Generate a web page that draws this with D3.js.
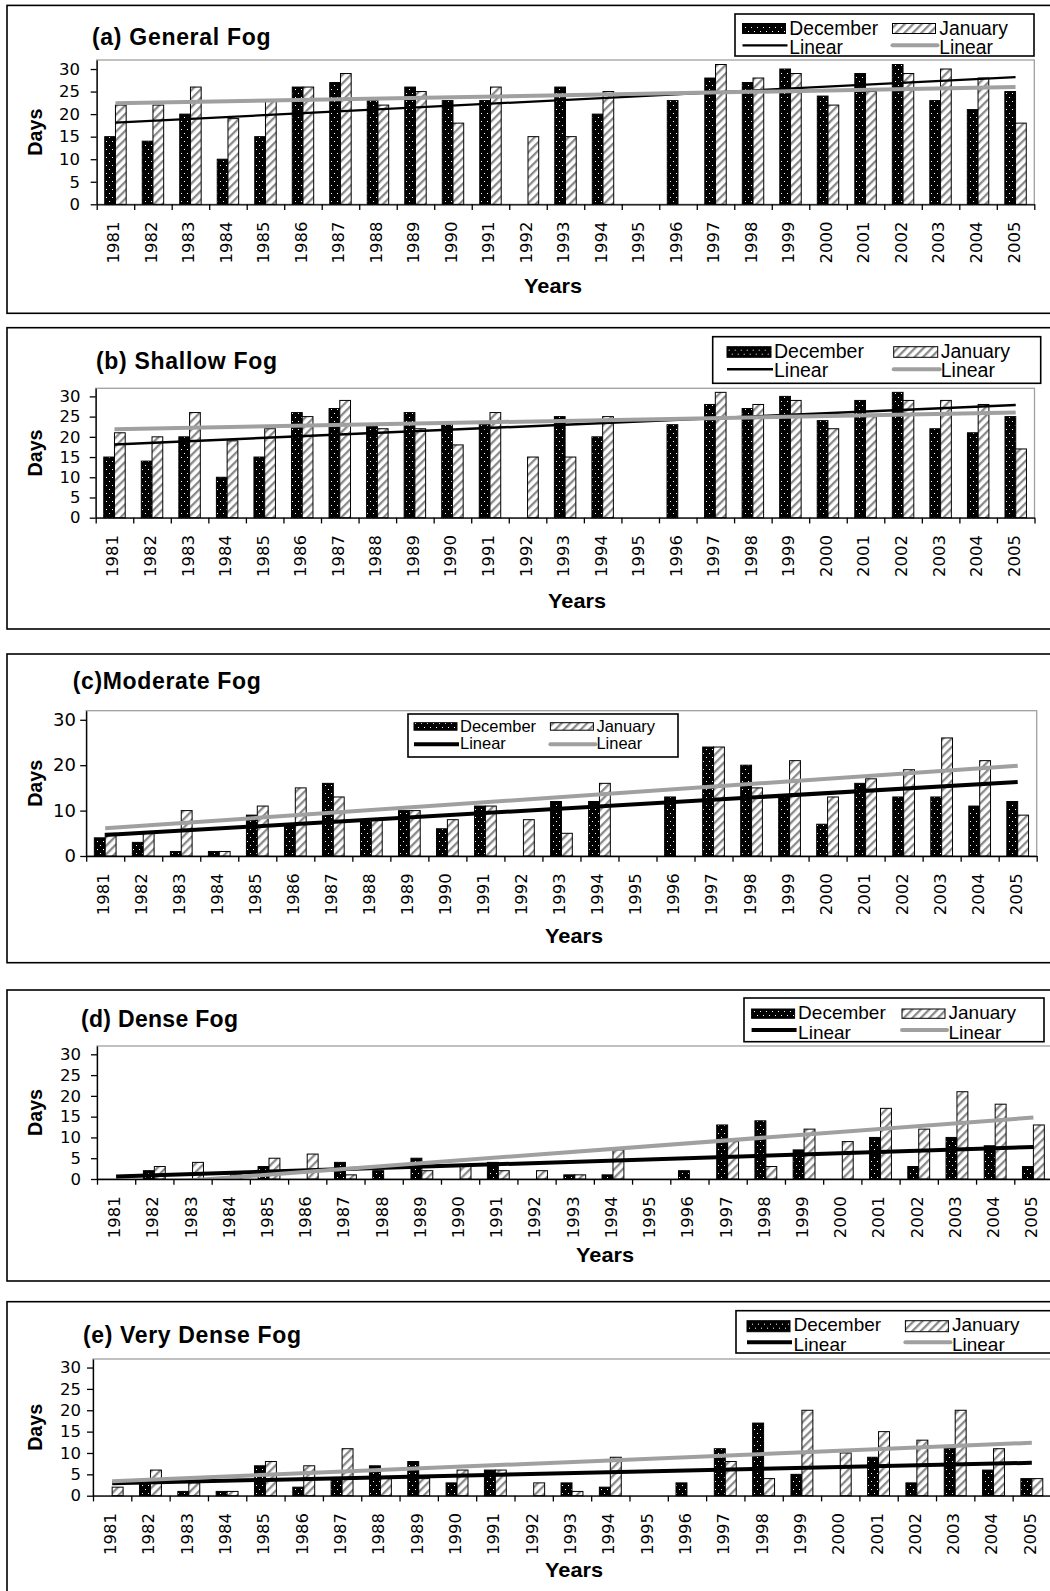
<!DOCTYPE html>
<html><head><meta charset="utf-8">
<script src="https://cdn.jsdelivr.net/npm/d3@7"></script>
<style>body{margin:0;background:#fff} svg{display:block}</style>
</head><body>
<svg id="chart" width="1050" height="1591"></svg>
<script>
// ---------------- DATA ----------------
const years = ["1981","1982","1983","1984","1985","1986","1987","1988","1989","1990","1991","1992","1993","1994","1995","1996","1997","1998","1999","2000","2001","2002","2003","2004","2005"];
const seriesNames = ["December","January"];
const legendLabels = ["December","January","Linear","Linear"];
const titles = ["(a) General Fog","(b) Shallow Fog","(c)Moderate Fog","(d) Dense Fog","(e) Very Dense Fog"];
const yAxisTitle = "Days";
const xAxisTitle = "Years";
const yTicksFine = [0,5,10,15,20,25,30];
const yTicksCoarse = [0,10,20,30];
const trendYears = ["1981","2005"];

const decGeneral = [15,14,20,10,15,26,27,23,26,23,23,null,26,20,null,23,28,27,30,24,29,31,23,21,25];
const janGeneral = [22,22,26,19,23,26,29,22,25,18,26,15,15,25,null,null,31,28,29,22,25,29,30,28,18];
const trendDecGeneral = [18.1,28.2];
const trendJanGeneral = [22.4,26.0];

const decShallow = [15,14,20,10,15,26,27,23,26,23,23,null,25,20,null,23,28,27,30,24,29,31,22,21,25];
const janShallow = [21,20,26,19,22,25,29,22,22,18,26,15,15,25,null,null,31,28,29,22,25,29,29,28,17];
const trendDecShallow = [18.1,27.9];
const trendJanShallow = [21.9,26.0];

const decModerate = [4,3,1,1,9,7,16,8,10,6,11,null,12,12,null,13,24,20,13,7,16,13,13,11,12];
const janModerate = [5,5,10,1,11,15,13,8,10,8,11,8,5,16,null,null,24,15,21,13,17,19,26,21,9];
const trendDecModerate = [4.6,16.3];
const trendJanModerate = [6.1,19.9];

const decDense = [null,2,null,null,3,null,4,2,5,null,4,null,1,1,null,2,13,14,7,null,10,3,10,8,3];
const janDense = [null,3,4,1,5,6,1,null,2,3,2,2,1,7,null,null,9,3,12,9,17,12,21,18,13];
const trendDecDense = [0.6,7.7];
const trendJanDense = [-1.7,14.8];

const decVeryDense = [null,3,1,1,7,2,4,7,8,3,6,null,3,2,null,3,11,17,5,null,9,3,11,6,4];
const janVeryDense = [2,6,3,1,8,7,11,4,4,6,6,3,1,9,null,null,8,4,20,10,15,13,20,11,4];
const trendDecVeryDense = [2.9,7.7];
const trendJanVeryDense = [3.4,12.4];

const panels = [
  {title:titles[0], dec:decGeneral, jan:janGeneral, tDec:trendDecGeneral, tJan:trendJanGeneral, yTicks:yTicksFine},
  {title:titles[1], dec:decShallow, jan:janShallow, tDec:trendDecShallow, tJan:trendJanShallow, yTicks:yTicksFine},
  {title:titles[2], dec:decModerate, jan:janModerate, tDec:trendDecModerate, tJan:trendJanModerate, yTicks:yTicksCoarse},
  {title:titles[3], dec:decDense, jan:janDense, tDec:trendDecDense, tJan:trendJanDense, yTicks:yTicksFine},
  {title:titles[4], dec:decVeryDense, jan:janVeryDense, tDec:trendDecVeryDense, tJan:trendJanVeryDense, yTicks:yTicksFine}
];

// ---------------- LAYOUT ----------------
const layouts = [
  {box:[7,5.4,1062,313.3], x0:96.7, x1:1034.3, yTop:60, y0:204.3, titleX:92, titleY:45, titleW:178.5, ylabRight:80, ylabSize:16.5,
   daysX:34.5, yearsX:553, yearsY:293, decW:2.2, janW:4,
   leg:{x:735,y:14,w:299,h:42,c1:7.5,c2:157.5,sw:43,swY:9.5,swH:10,t1:21,lY:31.3,t2:39.5,fs:19.3,gap:3.8,decW:2.2,janW:4}},
  {box:[7,327.7,1062,629], x0:95.7, x1:1034.5, yTop:388.3, y0:517.7, titleX:96, titleY:369, titleW:181, ylabRight:80.5, ylabSize:16.5,
   daysX:34.5, yearsX:577, yearsY:608, decW:2.5, janW:4,
   leg:{x:712.7,y:336.7,w:328,h:46.6,c1:14.3,c2:181,sw:44,swY:10,swH:10.6,t1:21,lY:32.6,t2:40,fs:19.5,gap:3,decW:2.5,janW:4}},
  {box:[7,654,1062,962.7], x0:86.2, x1:1036.7, yTop:710.7, y0:856, titleX:72.7, titleY:689, titleW:188, ylabRight:76, ylabSize:18,
   daysX:34.5, yearsX:574, yearsY:943, decW:4, janW:4,
   leg:{x:408,y:714,w:270,h:43,c1:6,c2:142.4,sw:43,swY:8.7,swH:7.5,t1:17.5,lY:30.3,t2:35.3,fs:16.5,gap:3,decW:4,janW:4}},
  {box:[7,990,1062,1281], x0:97, x1:1052.5, yTop:1046, y0:1179, titleX:81, titleY:1027, titleW:157, ylabRight:81, ylabSize:16.5,
   daysX:34.5, yearsX:605, yearsY:1262, decW:4, janW:4,
   leg:{x:744,y:998,w:300,h:43.7,c1:7.6,c2:158,sw:43,swY:11,swH:9.3,t1:21.3,lY:32,t2:40.6,fs:19,gap:3.5,decW:4,janW:4}},
  {box:[7,1301.7,1062,1620], x0:93, x1:1051, yTop:1359, y0:1495.7, titleX:83, titleY:1343, titleW:218, ylabRight:81, ylabSize:16.5,
   daysX:34.5, yearsX:574, yearsY:1577, decW:4, janW:4,
   leg:{x:736,y:1310.7,w:330,h:42.3,c1:11,c2:169.4,sw:43,swY:10,swH:11,t1:20.8,lY:31.6,t2:40,fs:19,gap:3.5,decW:4,janW:4}}
];

const GRAY = "#a0a0a0";
const svg = d3.select("#chart");
svg.append("rect").attr("width",1050).attr("height",1591).attr("fill","#fff");

// patterns
const defs = svg.append("defs");
const pd = defs.append("pattern").attr("id","dots").attr("patternUnits","userSpaceOnUse").attr("width",6).attr("height",8);
pd.append("rect").attr("width",6).attr("height",8).attr("fill","#000");
pd.append("rect").attr("x",1).attr("y",1).attr("width",1).attr("height",1).attr("fill","#fff");
pd.append("rect").attr("x",4).attr("y",5).attr("width",1).attr("height",1).attr("fill","#fff");
const ph = defs.append("pattern").attr("id","hatch").attr("patternUnits","userSpaceOnUse")
  .attr("width",6).attr("height",6).attr("patternTransform","rotate(45)");
ph.append("rect").attr("width",6).attr("height",6).attr("fill","#fff");
ph.append("rect").attr("width",2.3).attr("height",6).attr("fill","#8a8a8a");

const tickFont = "'DejaVu Sans', Verdana, sans-serif";
const legFont = "'Liberation Sans', Arial, sans-serif";

panels.forEach((P,i) => {
  const L = layouts[i];
  const g = svg.append("g");

  // panel frame
  g.append("rect").attr("x",L.box[0]).attr("y",L.box[1])
    .attr("width",L.box[2]-L.box[0]).attr("height",L.box[3]-L.box[1])
    .attr("fill","none").attr("stroke","#000").attr("stroke-width",1.6);

  // title
  g.append("text").attr("x",L.titleX).attr("y",L.titleY)
    .attr("textLength",L.titleW).attr("lengthAdjust","spacing")
    .style("font-family",legFont).style("font-weight","bold").style("font-size","23px")
    .text(P.title);

  // scales
  const x = d3.scaleBand().domain(years).range([L.x0,L.x1]).paddingInner(0).paddingOuter(0);
  const xs = d3.scaleBand().domain(seriesNames).range([0,x.bandwidth()]).paddingInner(0).paddingOuter(0.75);
  const y = d3.scaleLinear().domain([0,32]).range([L.y0,L.yTop]);

  // plot area border
  g.append("rect").attr("x",L.x0).attr("y",L.yTop).attr("width",L.x1-L.x0).attr("height",L.y0-L.yTop)
    .attr("fill","none").attr("stroke",GRAY).attr("stroke-width",1.3);

  // bars
  const rows = years.map((yr,j) => ({year:yr, December:P.dec[j], January:P.jan[j]}));
  seriesNames.forEach(s => {
    g.append("g").selectAll("rect")
      .data(rows.filter(r => r[s] != null && r[s] > 0))
      .join("rect")
      .attr("x", d => x(d.year) + xs(s))
      .attr("y", d => y(d[s]))
      .attr("width", xs.bandwidth())
      .attr("height", d => y(0) - y(d[s]))
      .attr("fill", s === "December" ? "url(#dots)" : "url(#hatch)")
      .attr("stroke","#000").attr("stroke-width",1);
  });

  // trend lines (clipped to plot area)
  const clipId = "clip" + i;
  defs.append("clipPath").attr("id",clipId).append("rect")
    .attr("x",L.x0).attr("y",L.yTop).attr("width",L.x1-L.x0).attr("height",L.y0-L.yTop);
  const line = d3.line().x(d => x(d[0]) + x.bandwidth()/2).y(d => y(d[1]));
  const tg = g.append("g").attr("clip-path",`url(#${clipId})`);
  tg.append("path").datum(trendYears.map((yr,k) => [yr,P.tDec[k]]))
    .attr("d",line).attr("fill","none").attr("stroke","#000").attr("stroke-width",L.decW);
  tg.append("path").datum(trendYears.map((yr,k) => [yr,P.tJan[k]]))
    .attr("d",line).attr("fill","none").attr("stroke",GRAY).attr("stroke-width",L.janW);

  // x axis: boundary ticks
  const xl = d3.scaleLinear().domain([0,years.length]).range([L.x0,L.x1]);
  const xa = g.append("g").attr("transform",`translate(0,${L.y0})`)
    .call(d3.axisBottom(xl).tickValues(d3.range(years.length+1)).tickSize(5.7).tickSizeOuter(0).tickFormat(""));
  xa.selectAll("path,line").attr("stroke","#000").attr("stroke-width",1.3);

  // x axis labels
  const xlab = g.append("g").attr("transform",`translate(0,${L.y0})`)
    .call(d3.axisBottom(x).tickSize(0).tickPadding(0));
  xlab.select(".domain").remove();
  xlab.selectAll("text")
    .attr("transform","rotate(-90)").attr("text-anchor","end")
    .attr("x",-17.3).attr("y",-2).attr("dy","0.36em")
    .style("font-family",tickFont).style("font-size","16.5px").attr("fill","#000");

  // y axis
  const ya = g.append("g").attr("transform",`translate(${L.x0},0)`)
    .call(d3.axisLeft(y).tickValues(P.yTicks).tickSize(6).tickSizeOuter(0).tickPadding(L.x0 - 6 - L.ylabRight));
  ya.selectAll("path,line").attr("stroke","#000").attr("stroke-width",1.3);
  ya.selectAll("text").style("font-family",tickFont).style("font-size",L.ylabSize + "px").attr("fill","#000");

  // axis titles
  g.append("text").attr("transform",`translate(${L.daysX},${(L.yTop+L.y0)/2}) rotate(-90)`)
    .attr("text-anchor","middle").attr("dy","0.35em")
    .attr("textLength",47).attr("lengthAdjust","spacingAndGlyphs")
    .style("font-family",legFont).style("font-weight","bold").style("font-size","20px")
    .text(yAxisTitle);
  g.append("text").attr("x",L.yearsX).attr("y",L.yearsY).attr("text-anchor","middle")
    .attr("textLength",58).attr("lengthAdjust","spacingAndGlyphs")
    .style("font-family",legFont).style("font-weight","bold").style("font-size","21px")
    .text(xAxisTitle);

  // legend
  const G = L.leg;
  const lg = g.append("g").attr("transform",`translate(${G.x},${G.y})`);
  lg.append("rect").attr("width",G.w).attr("height",G.h).attr("fill","#fff").attr("stroke","#000").attr("stroke-width",1.6);
  lg.append("rect").attr("x",G.c1).attr("y",G.swY).attr("width",G.sw).attr("height",G.swH)
    .attr("fill","url(#dots)").attr("stroke","#000").attr("stroke-width",1);
  lg.append("rect").attr("x",G.c2).attr("y",G.swY).attr("width",G.sw).attr("height",G.swH)
    .attr("fill","url(#hatch)").attr("stroke","#000").attr("stroke-width",1);
  lg.append("line").attr("x1",G.c1).attr("x2",G.c1+G.sw+2).attr("y1",G.lY).attr("y2",G.lY)
    .attr("stroke","#000").attr("stroke-width",G.decW);
  lg.append("line").attr("x1",G.c2).attr("x2",G.c2+G.sw+2).attr("y1",G.lY).attr("y2",G.lY)
    .attr("stroke",GRAY).attr("stroke-width",G.janW).attr("stroke-linecap","round");
  const lt = [[G.c1,G.t1,legendLabels[0]],[G.c2,G.t1,legendLabels[1]],[G.c1,G.t2,legendLabels[2]],[G.c2,G.t2,legendLabels[3]]];
  lg.selectAll("text.lt").data(lt).join("text").attr("class","lt")
    .attr("x",d => d[0]+G.sw+G.gap).attr("y",d => d[1])
    .style("font-family",legFont).style("font-size",G.fs+"px").attr("fill","#000")
    .text(d => d[2]);
});
</script>
</body></html>
